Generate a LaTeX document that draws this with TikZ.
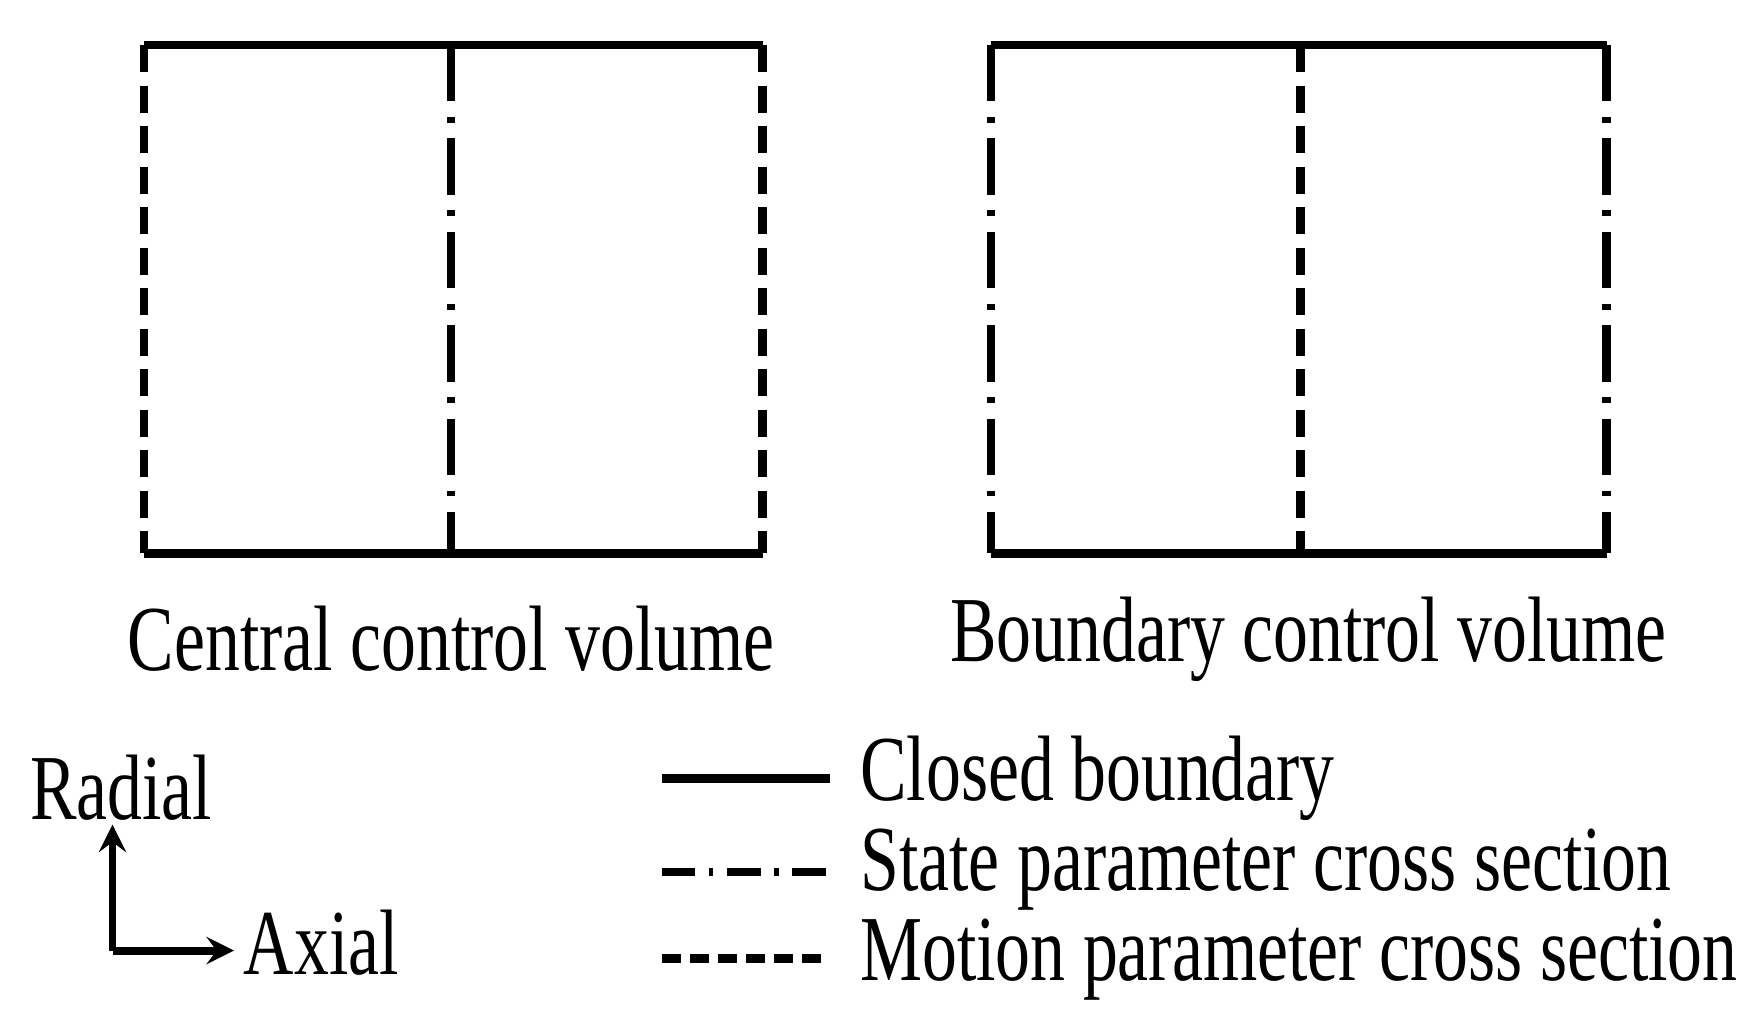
\documentclass[tikz,border=0pt]{standalone}
\usepackage{fontspec}
\setmainfont{Liberation Serif}
\begin{document}
\begin{tikzpicture}[x=0.01cm,y=-0.01cm,
  solid line/.style={line width=2.2pt},
  motion/.style={line width=2.2pt,dash pattern=on 0.24cm off 0.12cm},
  state/.style={line width=2.2pt,dash pattern=on 0.5cm off 0.14cm on 0.05cm off 0.14cm},
  lbl/.style={font=\fontsize{23.5}{25}\selectfont,inner sep=0pt}]
\useasboundingbox (0,0) rectangle (1560,901);
% left box
\coordinate (L1) at (128,40); \coordinate (L2) at (678,40);
\coordinate (L3) at (128,492); \coordinate (L4) at (678,492);
\coordinate (LM1) at (401,40); \coordinate (LM2) at (401,492);
\draw[solid line] (L1) -- (L2); \draw[solid line] (L3) -- (L4);
\draw[motion] (L1) -- (L3); \draw[motion] (L2) -- (L4);
\draw[state] (LM1) -- (LM2);
% right box
\coordinate (R1) at (881,40); \coordinate (R2) at (1428,40);
\coordinate (R3) at (881,492); \coordinate (R4) at (1428,492);
\coordinate (RM1) at (1156,40); \coordinate (RM2) at (1156,492);
\draw[solid line] (R1) -- (R2); \draw[solid line] (R3) -- (R4);
\draw[state] (R1) -- (R3); \draw[state] (R2) -- (R4);
\draw[motion] (RM1) -- (RM2);
\node[lbl] (cl) at (401,568) {\scalebox{0.75}[1]{Central control volume}};
\node[lbl] (bl) at (1163,568) {\scalebox{0.75}[1]{Boundary control volume}};
% axes
\coordinate (O) at (100,845);
\coordinate (U) at (100,733);
\coordinate (Rt) at (208,845);
\draw[line width=2pt,-stealth] (O) -- (U);
\draw[line width=2pt,-stealth] (O) -- (Rt);
\node[lbl,anchor=west] (rad) at (26,700) {\scalebox{0.75}[1]{Radial}};
\node[lbl,anchor=west] (ax) at (216,838) {\scalebox{0.75}[1]{Axial}};
% legend
\coordinate (a1) at (588,692); \coordinate (a2) at (738,692);
\coordinate (b1) at (588,775); \coordinate (b2) at (738,775);
\coordinate (c1) at (588,852); \coordinate (c2) at (738,852);
\draw[solid line] (a1) -- (a2);
\draw[line width=2.2pt,dash pattern=on 0.3cm off 0.12cm on 0.04cm off 0.12cm] (b1) -- (b2);
\draw[line width=2.2pt,dash pattern=on 0.17cm off 0.08cm] (c1) -- (c2);
\node[lbl,anchor=west] (t1) at (764,692) {\scalebox{0.75}[1]{Closed boundary}};
\node[lbl,anchor=west] (t2) at (764,773) {\scalebox{0.75}[1]{State parameter cross section}};
\node[lbl,anchor=west] (t3) at (764,853) {\scalebox{0.75}[1]{Motion parameter cross section}};
\end{tikzpicture}
\end{document}
